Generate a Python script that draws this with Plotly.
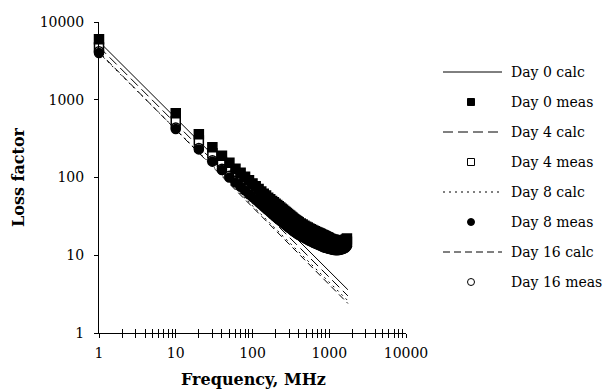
import plotly.graph_objects as go

# ---------------- data ----------------
freq_meas = [1, 10, 20, 30, 40, 50, 60, 70, 80, 90,
             100, 110, 120, 130, 140, 150, 160, 170, 180, 190, 200,
             210, 220, 230, 240, 250, 260, 270, 280, 290, 300,
             310, 320, 330, 340, 350, 360, 370, 380, 390, 400,
             425, 450, 475, 500, 525, 550, 575, 600, 625, 650, 675, 700,
             725, 750, 775, 800, 825, 850, 875, 900, 925, 950, 975, 1000,
             1050, 1100, 1150, 1200, 1250, 1300, 1350, 1400, 1450, 1500,
             1550, 1600, 1650, 1700]

day0_meas = [6000, 670, 360, 245, 190, 155, 130, 115, 102, 92,
             84, 77, 71, 66, 62, 58.5, 55, 52.5, 50, 48, 46,
             44.3, 42.6, 41.1, 39.7, 38.4, 37.2, 36.1, 35, 34, 33,
             32.1, 31.3, 30.5, 29.8, 29.1, 28.5, 27.9, 27.4, 26.9, 26.5,
             25.6, 24.8, 24.0, 23.3, 22.7, 22.1, 21.6, 21.1, 20.7, 20.3, 19.9, 19.6,
             19.3, 19.0, 18.7, 18.4, 18.2, 17.9, 17.7, 17.4, 17.2, 17.0, 16.8, 16.5,
             16.2, 16.0, 15.8, 15.6, 15.5, 15.4, 15.3, 15.3, 15.3, 15.4,
             15.5, 15.7, 16.0, 16.4]
day4_meas = [4700, 530, 300, 205, 158, 128, 108, 95, 85, 77,
             70, 64.5, 59.5, 55.5, 52, 49, 46.3, 44, 42, 40.2, 38.5,
             37.1, 35.8, 34.6, 33.5, 32.5, 31.5, 30.6, 29.8, 29.0, 28.3,
             27.6, 27.0, 26.4, 25.8, 25.3, 24.8, 24.3, 23.9, 23.5, 23.1,
             22.4, 21.7, 21.0, 20.4, 19.9, 19.4, 19.0, 18.6, 18.2, 17.9, 17.6, 17.3,
             17.0, 16.8, 16.5, 16.3, 16.1, 15.9, 15.7, 15.5, 15.3, 15.2, 15.0, 14.9,
             14.6, 14.4, 14.2, 14.1, 14.0, 13.9, 13.8, 13.8, 13.8, 13.9,
             14.0, 14.2, 14.5, 14.9]
day8_meas = [4000, 420, 230, 160, 125, 100, 86, 76, 68, 61,
             56, 51.5, 48, 45, 42, 39.6, 37.5, 35.6, 34, 32.5, 31,
             29.9, 28.8, 27.8, 26.9, 26.0, 25.2, 24.5, 23.8, 23.1, 22.5,
             22.0, 21.5, 21.0, 20.5, 20.1, 19.7, 19.3, 19.0, 18.6, 18.3,
             17.7, 17.2, 16.7, 16.2, 15.8, 15.4, 15.1, 14.8, 14.5, 14.2, 14.0, 13.8,
             13.6, 13.4, 13.2, 13.0, 12.9, 12.7, 12.6, 12.5, 12.4, 12.3, 12.2, 12.1,
             11.9, 11.8, 11.7, 11.6, 11.6, 11.6, 11.7, 11.8, 11.9, 12.0,
             12.2, 12.4, 12.7, 13.1]
day16_meas = [4200, 440, 240, 167, 130, 105, 90, 80, 71, 64,
              59, 54.5, 50.5, 47, 44, 41.5, 39.3, 37.4, 35.7, 34.3, 33,
              31.8, 30.7, 29.6, 28.7, 27.8, 27.0, 26.2, 25.5, 24.8, 24.2,
              23.6, 23.1, 22.6, 22.1, 21.7, 21.3, 20.9, 20.5, 20.1, 19.8,
              19.1, 18.5, 18.0, 17.5, 17.0, 16.6, 16.2, 15.9, 15.6, 15.3, 15.0, 14.8,
              14.6, 14.4, 14.2, 14.0, 13.8, 13.7, 13.5, 13.4, 13.3, 13.1, 13.0, 12.9,
              12.7, 12.6, 12.5, 12.4, 12.4, 12.4, 12.4, 12.5, 12.6, 12.8,
              13.0, 13.2, 13.5, 13.9]

freq_calc = [1, 1750]
day0_calc = [5600, 3.6]
day4_calc = [4800, 3.0]
day8_calc = [4000, 2.6]
day16_calc = [4100, 2.4]

x_tick_vals = [1, 10, 100, 1000, 10000]
x_tick_text = ["1", "10", "100", "1000", "10000"]
y_tick_vals = [1, 10, 100, 1000, 10000]
y_tick_text = ["1", "10", "100", "1000", "10000"]
minor_ticks = [m * d for d in (1, 10, 100, 1000) for m in range(2, 10)]

legend_names = ["Day 0 calc", "Day 0 meas", "Day 4 calc", "Day 4 meas",
                "Day 8 calc", "Day 8 meas", "Day 16 calc", "Day 16 meas"]

# ---------------- style ----------------
FONT = "DejaVu Serif"
PX_L, PX_W, PX_T, PX_H = 99, 307, 22, 311
W, H = 609, 389

def px(x):
    return (x - PX_L) / PX_W

def py(y):
    return 1 - (y - PX_T) / PX_H

line_styles = {
    "Day 0 calc": "solid",
    "Day 4 calc": "10px,5px",
    "Day 8 calc": "2px,4px",
    "Day 16 calc": "7px,4px",
}
marker_styles = {
    "Day 0 meas": ("square", "black"),
    "Day 4 meas": ("square", "white"),
    "Day 8 meas": ("circle", "black"),
    "Day 16 meas": ("circle", "white"),
}

series = {
    "Day 0 calc": (freq_calc, day0_calc),
    "Day 0 meas": (freq_meas, day0_meas),
    "Day 4 calc": (freq_calc, day4_calc),
    "Day 4 meas": (freq_meas, day4_meas),
    "Day 8 calc": (freq_calc, day8_calc),
    "Day 8 meas": (freq_meas, day8_meas),
    "Day 16 calc": (freq_calc, day16_calc),
    "Day 16 meas": (freq_meas, day16_meas),
}

# drawing order: lines, open markers, then filled markers on top
draw_order = ["Day 0 calc", "Day 4 calc", "Day 8 calc", "Day 16 calc",
              "Day 4 meas", "Day 16 meas", "Day 0 meas", "Day 8 meas"]

fig = go.Figure()
for name in draw_order:
    xs, ys = series[name]
    if name in line_styles:
        fig.add_trace(go.Scatter(x=xs, y=ys, mode="lines", name=name,
                                 line=dict(color="black", width=1, dash=line_styles[name]),
                                 showlegend=False, cliponaxis=False))
    else:
        sym, fill = marker_styles[name]
        fig.add_trace(go.Scatter(x=xs, y=ys, mode="markers", name=name,
                                 marker=dict(symbol=sym, size=9, color=fill,
                                             line=dict(color="black", width=1.5)),
                                 showlegend=False, cliponaxis=False))

fig.add_trace(go.Scatter(x=[1], y=[1], xaxis="x2", mode="markers",
                         marker=dict(opacity=0), showlegend=False, hoverinfo="skip"))

axis_common = dict(type="log", range=[0, 4], showgrid=False, zeroline=False,
                   showline=True, linecolor="black", linewidth=1)

fig.update_layout(
    width=W, height=H,
    margin=dict(l=PX_L, r=W - PX_L - PX_W, t=PX_T, b=H - PX_T - PX_H),
    paper_bgcolor="white", plot_bgcolor="white",
    font=dict(family=FONT, size=14, color="black"),
    showlegend=False,
    xaxis=dict(**axis_common, tickmode="array", tickvals=x_tick_vals, ticktext=x_tick_text,
               ticks="outside", ticklen=4, tickcolor="black", tickwidth=1,
               ticklabelstandoff=3,
               minor=dict(tickmode="array", tickvals=minor_ticks, ticks="outside",
                          ticklen=4, tickcolor="black", tickwidth=1),
               tickfont=dict(family=FONT, size=14)),
    xaxis2=dict(**axis_common, overlaying="x", anchor="y", side="bottom",
                tickmode="array", tickvals=x_tick_vals, showticklabels=False,
                ticks="inside", ticklen=4, tickcolor="black", tickwidth=1,
                minor=dict(tickmode="array", tickvals=minor_ticks, ticks="inside",
                           ticklen=4, tickcolor="black", tickwidth=1)),
    yaxis=dict(**axis_common, tickmode="array", tickvals=y_tick_vals, ticktext=y_tick_text,
               ticks="outside", ticklen=4, tickcolor="black", tickwidth=1,
               ticklabelstandoff=7, tickfont=dict(family=FONT, size=14)),
)

annotations = [
    dict(text="<b>Frequency, MHz</b>", x=px(253), y=py(379), xref="paper", yref="paper",
         showarrow=False, font=dict(family=FONT, size=16), xanchor="center", yanchor="middle"),
    dict(text="<b>Loss factor</b>", x=px(18), y=py(177), xref="paper", yref="paper",
         showarrow=False, textangle=-90, font=dict(family=FONT, size=16),
         xanchor="center", yanchor="middle"),
]
shapes = []

row_y0, row_dy = 72, 30
for i, name in enumerate(legend_names):
    yy = row_y0 + i * row_dy
    annotations.append(dict(text=name, x=px(509), y=py(yy), xref="paper", yref="paper",
                            showarrow=False, xanchor="left", yanchor="middle",
                            font=dict(family=FONT, size=14)))
    if name in line_styles:
        shapes.append(dict(type="line", xref="paper", yref="paper",
                           x0=px(443), x1=px(502), y0=py(yy), y1=py(yy),
                           line=dict(color="black", width=1, dash=line_styles[name])))
    else:
        sym, fill = marker_styles[name]
        s = 3.5
        shapes.append(dict(type="rect" if sym == "square" else "circle",
                           xref="paper", yref="paper",
                           x0=px(471 - s), x1=px(471 + s), y0=py(yy - s), y1=py(yy + s),
                           fillcolor=fill, line=dict(color="black", width=1)))

fig.update_layout(annotations=annotations, shapes=shapes)
fig.write_html("out.html")
